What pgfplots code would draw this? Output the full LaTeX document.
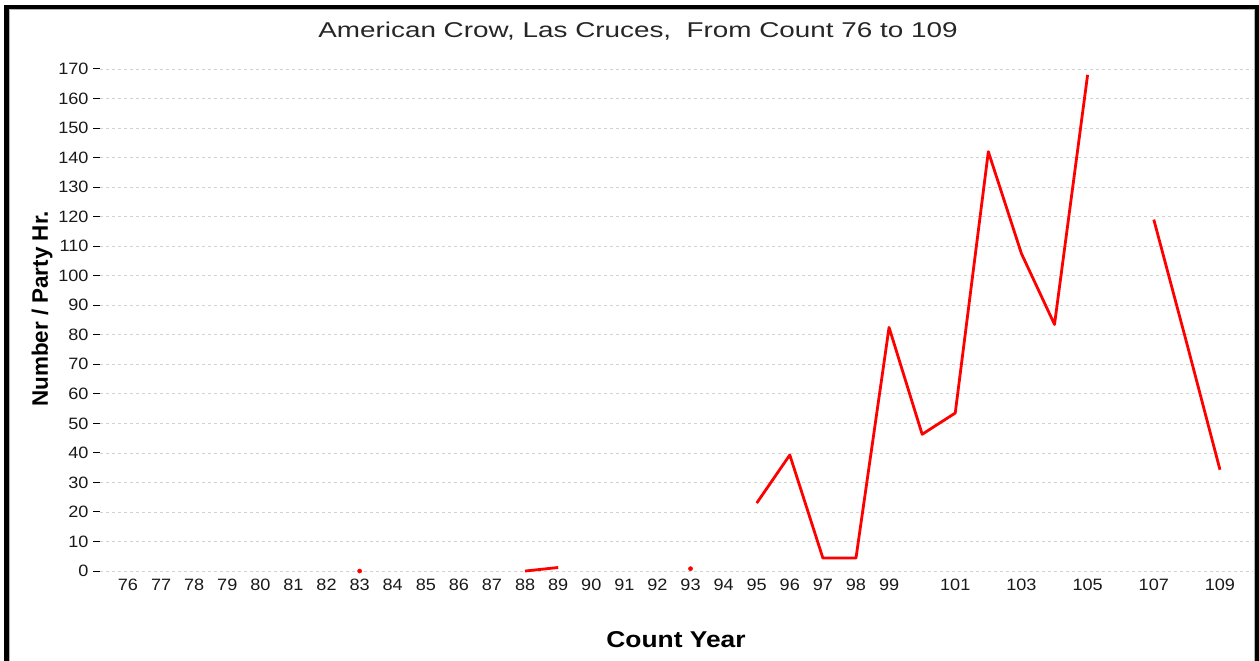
\documentclass[border=0pt]{standalone}
\usepackage{fontspec}
\setmainfont{Liberation Sans}
\newfontfamily\titlefont[FakeStretch=1.3]{Liberation Sans}
\newfontfamily\tickfont[FakeStretch=1.1]{Liberation Sans}
\newfontfamily\labelfont[FakeStretch=1.15]{Liberation Sans}
\usepackage{pgfplots}
\pgfplotsset{compat=1.18}

\begin{document}
\begin{tikzpicture}
\useasboundingbox (0bp,0bp) rectangle (1259bp,661bp);

% frame
\fill[black] (4bp,0bp) rectangle (9bp,656bp);
\fill[black] (4bp,652bp) rectangle (1259bp,656bp);
\fill[black] (1255bp,0bp) rectangle (1259bp,656bp);
\draw[gray!60,line width=0.8bp] (9.5bp,0bp) -- (9.5bp,651.5bp) -- (1254.5bp,651.5bp) -- (1254.5bp,0bp);

\begin{axis}[
  at={(100bp,87bp)}, anchor=south west,
  scale only axis,
  width=1153bp, height=513.9bp,
  xmin=75.154, xmax=109.998,
  ymin=-1, ymax=173,
  axis line style={draw=none},
  xtick={76,77,...,99,101,103,105,107,109},
  ytick={0,10,...,170},
  xtick style={draw=none},
  ytick pos=left,
  tick align=outside,
  major tick length=7bp,
  ytick style={black, line width=1bp},
  ymajorgrids,
  grid style={gray!35, dash pattern=on 3bp off 3bp, line width=0.7bp},
  /pgf/number format/assume math mode=true,
  ticklabel style={font=\tickfont\fontsize{16.5}{16.5}\selectfont, text=black!90},
  xticklabel style={yshift=5bp},
  yticklabel style={xshift=-1bp},
  unbounded coords=jump,
  clip=false,
]
\addplot[red, line width=2.8bp, line join=round] coordinates {
  (88,0) (89,1.2) (90,nan)
  (95,23) (96,39.3) (97,4.4) (98,4.4) (99,82.5) (100,46.3) (101,53.5)
  (102,142) (103,107.5) (104,83.5) (105,168) (106,nan)
  (107,119) (108,77) (109,34.3)
};
\addplot[only marks, mark=*, mark size=2.1bp, red] coordinates {
  (83,0) (93,0.8)
};
\end{axis}

\node[font=\titlefont\fontsize{21.5}{21.5}\selectfont, text=black!85] at (638bp,630bp) {American Crow, Las Cruces,\ \ From Count 76 to 109};
\node[font=\labelfont\bfseries\fontsize{23}{23}\selectfont] at (676bp,21bp) {Count Year};
\node[font=\bfseries\fontsize{22.5}{22.5}\selectfont, rotate=90] at (42bp,352bp) {Number / Party Hr.};
\end{tikzpicture}
\end{document}
